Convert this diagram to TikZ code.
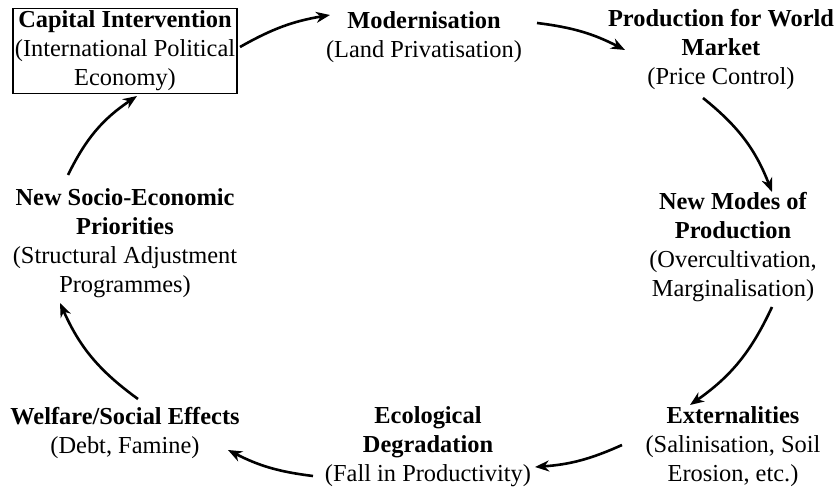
\documentclass[tikz,border=0pt]{standalone}
\usepackage{fontspec}
\setmainfont{Liberation Serif}
\usetikzlibrary{arrows.meta}

\begin{document}
\begin{tikzpicture}[x=0.5pt,y=-0.5pt,font=\fontsize{12.2}{14.5}\selectfont]
    \tikzstyle{stage}=[align=center, inner sep=0pt]
    \tikzstyle{boxed}=[draw, line width=0.7pt, minimum width=112pt, minimum height=42.5pt]
    \tikzstyle{cycle}=[line width=1.3pt, -{Stealth[length=7pt,width=5.5pt,inset=2.2pt]}]
    \useasboundingbox (0,0) rectangle (835,491);

    \node[stage,boxed] (capital) at (125,51) {\textbf{Capital Intervention}\\(International Political\\Economy)};
    \node[stage] (modern) at (424,37) {\textbf{Modernisation}\\(Land Privatisation)};
    \node[stage] (world) at (721,50) {\textbf{Production for World}\\\textbf{Market}\\(Price Control)};

    \node[stage] (modes) at (733,247) {\textbf{New Modes of}\\\textbf{Production}\\(Overcultivation,\\Marginalisation)};
    \node[stage] (extern) at (733,447) {\textbf{Externalities}\\(Salinisation, Soil\\Erosion, etc.)};

    \node[stage] (eco) at (428,447) {\textbf{Ecological}\\\textbf{Degradation}\\(Fall in Productivity)};
    \node[stage] (welfare) at (125,433) {\textbf{Welfare/Social Effects}\\(Debt, Famine)};
    \node[stage] (socio) at (125,243) {\textbf{New Socio-Economic}\\\textbf{Priorities}\\(Structural Adjustment\\Programmes)};

    \draw[cycle] ([shift={(115,-4)}]capital.center) to[bend left=10] ([shift={(-94,-22)}]modern.center);
    \draw[cycle] ([shift={(113,-14)}]modern.center) to[bend left=10] ([shift={(-96,0)}]world.center);
    \draw[cycle] ([shift={(-18,48)}]world.center) to[bend left=15] ([shift={(39,-55)}]modes.center);
    \draw[cycle] ([shift={(39,60)}]modes.center) to[bend left=15] ([shift={(-43,-42)}]extern.center);
    \draw[cycle] ([shift={(-111,-2)}]extern.center) to[bend left=10] ([shift={(107,20)}]eco.center);
    \draw[cycle] ([shift={(-115,29)}]eco.center) to[bend left=10] ([shift={(103,17)}]welfare.center);
    \draw[cycle] ([shift={(13,-34)}]welfare.center) to[bend left=15] ([shift={(-65,60)}]socio.center);
    \draw[cycle] ([shift={(-57,-68)}]socio.center) to[bend left=15] ([shift={(12,45)}]capital.center);
\end{tikzpicture}
\end{document}
